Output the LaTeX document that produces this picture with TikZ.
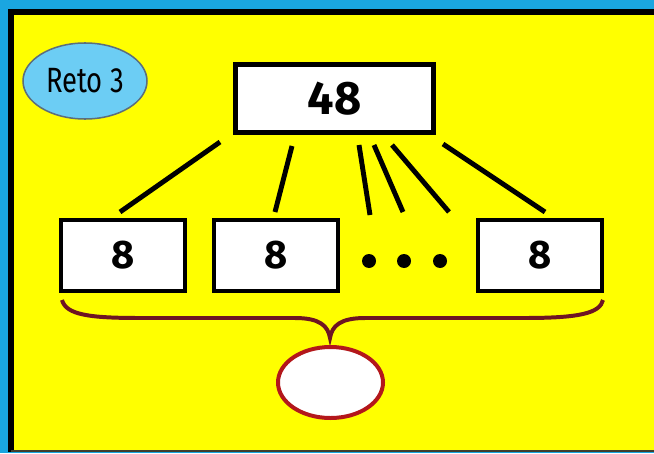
\documentclass[tikz,border=0pt]{standalone}
\usepackage{fontspec}
\setmainfont{Fira Sans}
\usetikzlibrary{positioning,shapes.geometric}
\definecolor{skyblue}{HTML}{1AA6E0}
\definecolor{panelyellow}{HTML}{FFFF00}
\definecolor{badgefill}{HTML}{6CCDF4}
\definecolor{badgeedge}{HTML}{5C6E7C}
\definecolor{bracecol}{HTML}{6E1423}
\definecolor{answerred}{HTML}{B3171B}
\begin{document}
\begin{tikzpicture}[x=0.03cm, y=-0.03cm,
    numbox/.style={draw, fill=white, line width=3.4pt, minimum width=3.72cm,
      minimum height=2.13cm, inner sep=0pt, font=\fontsize{34}{34}\selectfont\bfseries},
    link/.style={line width=4.2pt},
    dot/.style={circle, fill=black, inner sep=0pt, minimum size=0.42cm}]
  \useasboundingbox (0,0) rectangle (654,453);

  % Background and panel
  \fill[skyblue] (0,0) rectangle (654,453);
  \fill[panelyellow] (11,12) rectangle (654,451);
  \fill (8,9) rectangle (654,15);
  \fill (8,9) rectangle (14,452);
  \fill[black!70!olive] (11,450) rectangle (654,452);

  % Badge
  \node[ellipse, draw=badgeedge, fill=badgefill, line width=1.3pt,
    minimum width=3.72cm, minimum height=2.28cm, font=\fontsize{30}{30}\selectfont]
    (reto) at (85,81) {\scalebox{0.78}[1]{Reto 3}};

  % Whole and parts
  \node[numbox, minimum width=5.94cm, minimum height=2.04cm, line width=4.2pt,
    font=\fontsize{40}{40}\selectfont\bfseries] (whole) at (334.5,98.5) {48};
  \node[numbox] (p1) at (123,255.5) {8};
  \node[numbox, right=0.75cm of p1] (p2) {8};
  \node[numbox] (pn) at (540,255.5) {8};
  \node[dot] (d1) at (369,261) {};
  \node[dot] (d2) at (404,261) {};
  \node[dot] (d3) at (440,261) {};

  % Links
  \coordinate (s1) at (220,142); \coordinate (e1) at (120,212);
  \coordinate (s2) at (292,146); \coordinate (e2) at (275,212);
  \coordinate (s3) at (359,145); \coordinate (e3) at (370,215);
  \coordinate (s4) at (374,145); \coordinate (e4) at (403,212);
  \coordinate (s5) at (392,145); \coordinate (e5) at (449,212);
  \coordinate (s6) at (443,144); \coordinate (e6) at (545,212);
  \foreach \i in {1,...,6}
    \draw[link] (s\i) -- (e\i);

  % Brace and answer
  \coordinate (tip) at (330,338);
  \draw[bracecol, line width=3.4pt]
    (62,300) .. controls (66,315) and (90,318) .. (140,318) -- (295,318)
    .. controls (320,318) and (328,326) .. (tip)
    .. controls (332,326) and (340,318) .. (365,318) -- (525,318)
    .. controls (580,318) and (600,313) .. (603,300);
  \node[ellipse, draw=answerred, fill=white, line width=3.4pt,
    minimum width=3.15cm, minimum height=2.13cm] (answer) at (330.5,382.5) {};
\end{tikzpicture}
\end{document}
